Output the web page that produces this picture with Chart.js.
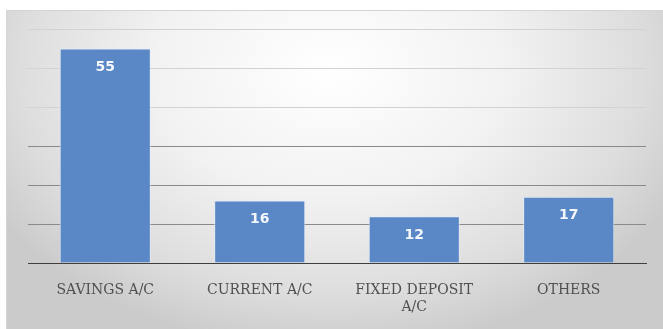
<!DOCTYPE html>
<html>
<head>
<meta charset="utf-8">
<script src="https://cdn.jsdelivr.net/npm/chart.js@4"></script>
<style>
  body { margin: 0; background: #fff; }
  #wrap { width: 663px; height: 329px; }
</style>
</head>
<body>
<div id="wrap"><canvas id="chart" width="663" height="329"></canvas></div>
<script>
// --- data ---
const categories = ['SAVINGS A/C', 'CURRENT A/C', ['FIXED DEPOSIT', 'A/C'], 'OTHERS'];
const accountCounts = [55, 16, 12, 17];
const yMax = 60;
const yStep = 10;

// --- background: soft radial grey panel ---
const panelBg = {
  id: 'panelBg',
  beforeDraw(chart) {
    const ctx = chart.ctx;
    const w = chart.width, h = chart.height;
    ctx.save();
    ctx.fillStyle = '#fff';
    ctx.fillRect(0, 0, w, h);
    const cx = 330, cy = 70, rx = 390, sy = 0.72;
    ctx.translate(cx, cy);
    ctx.scale(1, sy);
    const g = ctx.createRadialGradient(0, 0, 0, 0, 0, rx);
    g.addColorStop(0, '#ffffff');
    g.addColorStop(0.45, '#f2f2f2');
    g.addColorStop(0.8, '#dddddd');
    g.addColorStop(1, '#cbcbcb');
    ctx.fillStyle = g;
    ctx.fillRect(6 - cx, (10 - cy) / sy, w - 6, (h - 10) / sy);
    ctx.restore();
    ctx.save();
    ctx.strokeStyle = '#d4d4d4';
    ctx.lineWidth = 1;
    ctx.beginPath();
    ctx.moveTo(6.5, h);
    ctx.lineTo(6.5, 10.5);
    ctx.lineTo(w, 10.5);
    ctx.stroke();
    ctx.restore();
  }
};

// --- value labels inside top of bars ---
const barValues = {
  id: 'barValues',
  afterDatasetsDraw(chart) {
    const ctx = chart.ctx;
    const meta = chart.getDatasetMeta(0);
    ctx.save();
    ctx.font = 'bold 14px "DejaVu Sans"';
    ctx.fillStyle = '#f4f7fc';
    ctx.textAlign = 'center';
    ctx.textBaseline = 'middle';
    meta.data.forEach((bar, i) => {
      ctx.fillText(String(accountCounts[i]), bar.x, bar.y + 19);
    });
    ctx.restore();
  }
};

new Chart(document.getElementById('chart'), {
  type: 'bar',
  data: {
    labels: categories,
    datasets: [{
      data: accountCounts,
      backgroundColor: '#5a88c6',
      borderColor: 'rgba(225,235,248,0.8)',
      borderWidth: 1,
      categoryPercentage: 0.59,
      barPercentage: 1
    }]
  },
  options: {
    responsive: false,
    animation: false,
    layout: { padding: { left: 28, right: 17, top: 29, bottom: 0 } },
    plugins: { legend: { display: false }, tooltip: { enabled: false } },
    scales: {
      y: {
        min: 0, max: yMax,
        ticks: { display: false, stepSize: yStep },
        grid: {
          color: ctx => ctx.tick && ctx.tick.value === 0 ? '#3f3f3f' : (ctx.tick && ctx.tick.value >= 40 ? '#d2d2d2' : '#8a8a8a'),
          lineWidth: 1,
          drawTicks: false
        },
        border: { display: false },
        afterFit: s => { s.width = 0; }
      },
      x: {
        grid: { display: false },
        border: { display: true, color: '#3f3f3f', width: 1 },
        ticks: {
          color: '#505050',
          font: { family: '"DejaVu Serif"', size: 14 },
          padding: 11,
          maxRotation: 0,
          autoSkip: false,
          lineHeight: 1.3
        },
        afterFit: s => { s.height = 66; }
      }
    }
  },
  plugins: [panelBg, barValues]
});
</script>
</body>
</html>
